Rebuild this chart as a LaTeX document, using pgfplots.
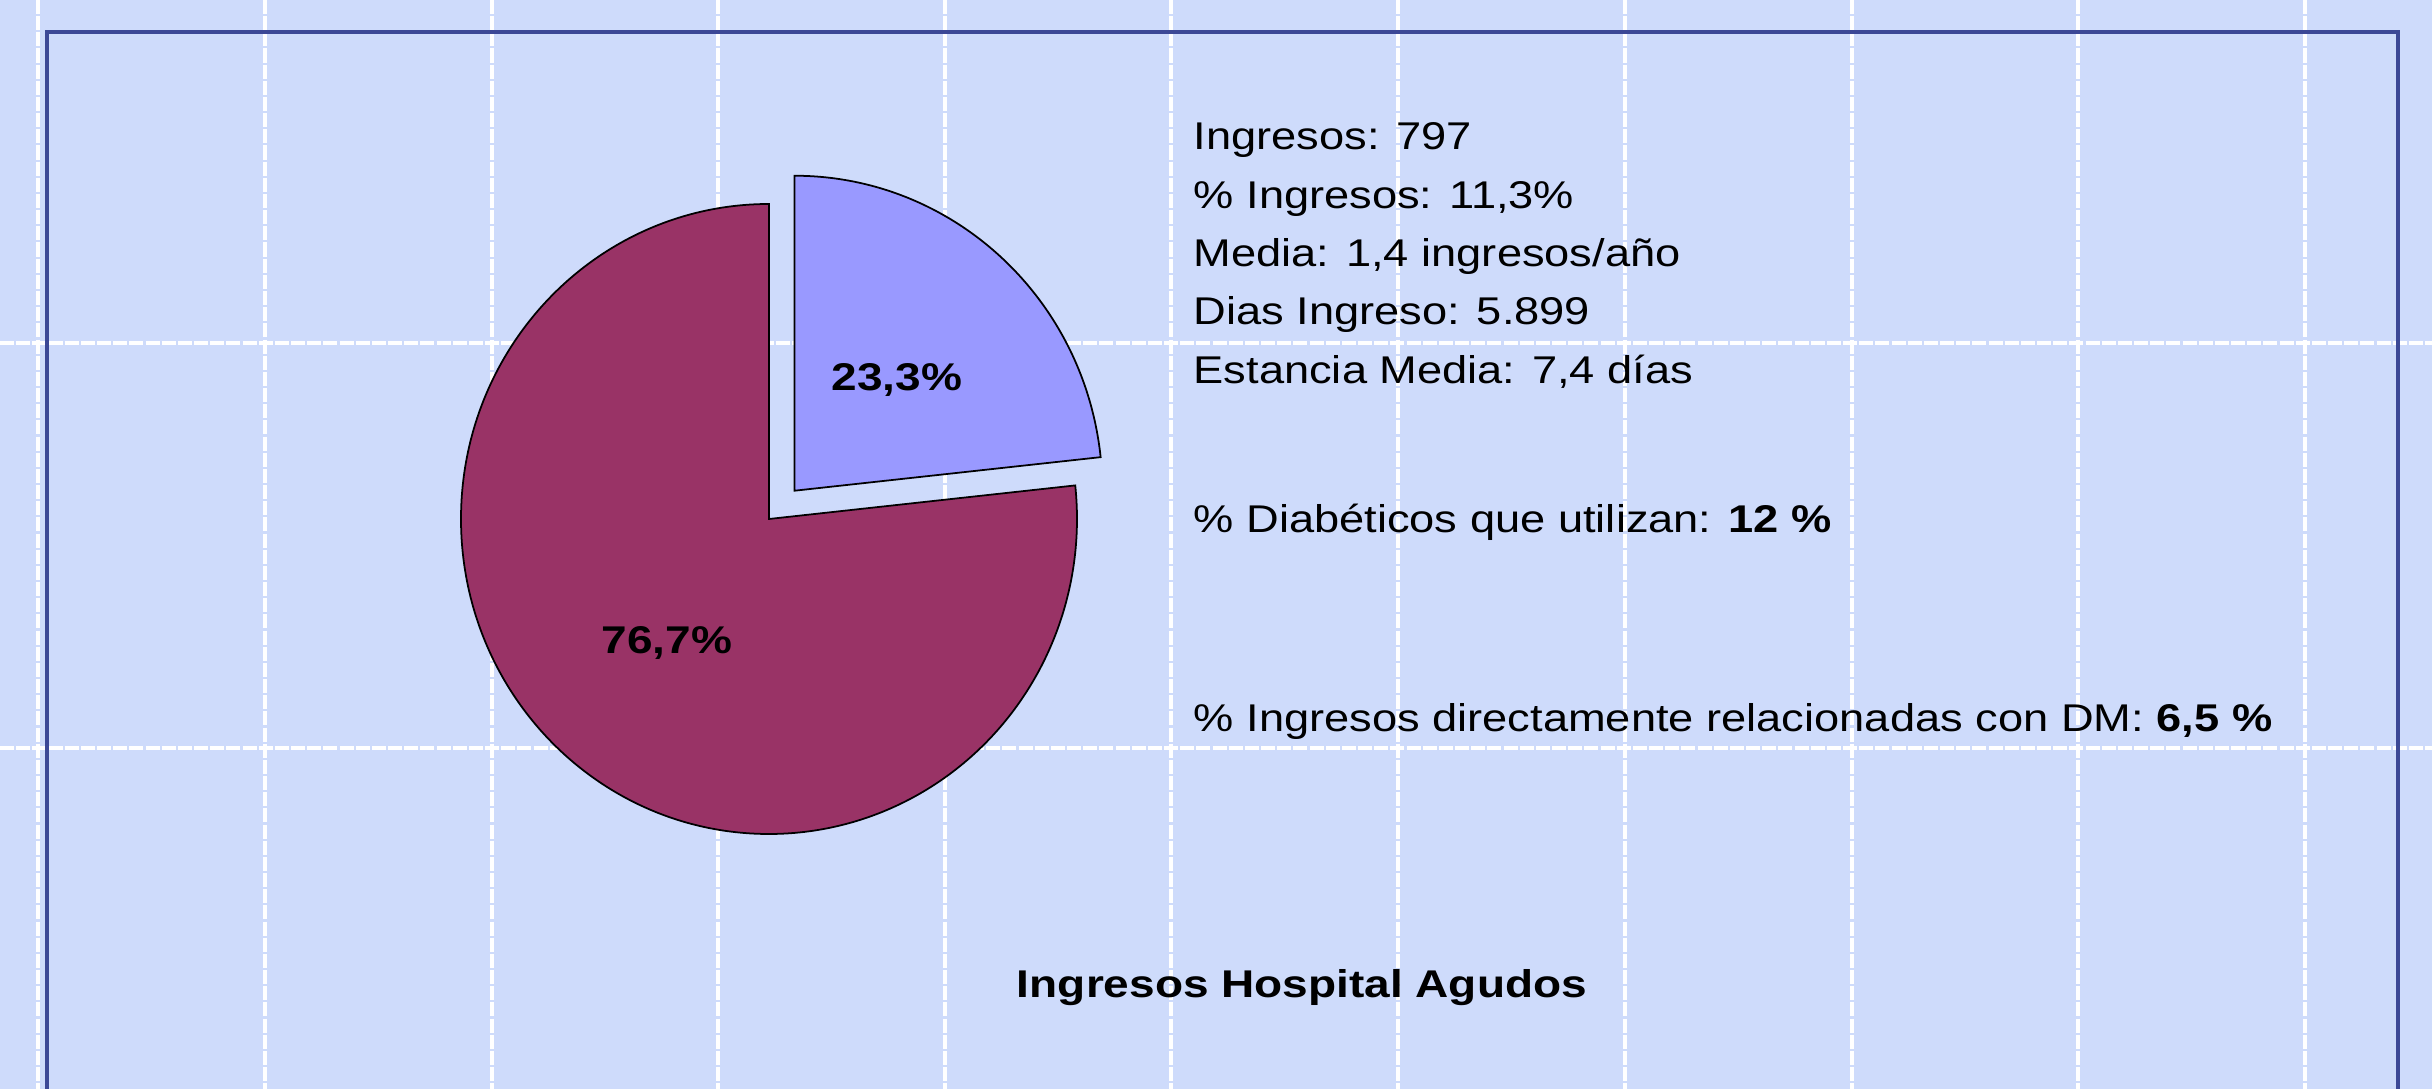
\documentclass[border=0pt]{standalone}
\usepackage{fontspec}
\setmainfont{Liberation Sans}
\usepackage{graphicx}
\usepackage{pgfplots}
\usepackage{pgfplotstable}
\pgfplotsset{compat=1.18}
\definecolor{bg}{RGB}{206,219,251}
\definecolor{framec}{RGB}{60,72,150}
\definecolor{sliceA}{RGB}{153,153,255}
\definecolor{sliceB}{RGB}{153,51,102}

\pgfplotstableread{
label value
DM 23.3
Otros 76.7
}\piedata

\newcommand\sx[1]{\scalebox{1.17}[1]{#1}}
\newcommand\sbx[1]{\scalebox{1.19}[1]{#1}}

\begin{document}
\begin{tikzpicture}
\pgfplotstablegetelem{0}{value}\of\piedata \let\va\pgfplotsretval
\pgfplotstablegetelem{1}{value}\of\piedata \let\vb\pgfplotsretval
\pgfmathsetmacro\aEnd{90-3.6*\va}
\pgfmathsetmacro\aMid{90-1.8*\va}
\pgfmathsetmacro\aEndB{90+3.6*\vb}
\begin{axis}[at={(0,0)},anchor=south west,scale only axis,
  width=24.32cm,height=10.89cm,
  xmin=0,xmax=2432,ymin=0,ymax=1089,y dir=reverse,hide axis,clip=true]
\fill[bg] (axis cs:0,0) rectangle (axis cs:2432,1089);
\pgfplotsinvokeforeach{38,265,492,718,945,1171,1398,1625,1852,2078,2305}{
  \draw[white,line width=0.9pt,dash pattern=on 4pt off 0.6pt] (axis cs:#1,0) -- (axis cs:#1,1089);
}
\pgfplotsinvokeforeach{343,748}{
  \draw[white,line width=1pt,dash pattern=on 4pt off 0.6pt] (axis cs:0,#1) -- (axis cs:2432,#1);
}
\draw[framec,line width=0.9pt] (axis cs:47,1100) -- (axis cs:47,32) -- (axis cs:2398,32) -- (axis cs:2398,1100);
% main slice
\filldraw[fill=sliceB,draw=black,line width=0.5pt] (axis cs:769,519) -- ++(0,3.15cm) arc[start angle=90,end angle=\aEndB,x radius=3.08cm,y radius=3.15cm] -- cycle;
% exploded slice
\path (axis cs:769,519) ++(\aMid:0.38cm) coordinate (cA);
\filldraw[fill=sliceA,draw=black,line width=0.5pt] (cA) -- ++(0,3.15cm) arc[start angle=90,end angle=\aEnd,x radius=3.08cm,y radius=3.15cm] -- cycle;
% labels
\tikzset{every node/.append style={inner sep=0pt}}
\node[anchor=base,font=\fontsize{11}{13}\selectfont\bfseries] at (axis cs:897,391) {\sbx{23,3\%}};
\node[anchor=base,font=\fontsize{11}{13}\selectfont\bfseries] at (axis cs:667,654) {\sbx{76,7\%}};
\node[anchor=base west,font=\fontsize{11}{13}\selectfont] at (axis cs:1193,150) {\sx{Ingresos: 797}};
\node[anchor=base west,font=\fontsize{11}{13}\selectfont] at (axis cs:1193,209) {\sx{\% Ingresos: 11,3\%}};
\node[anchor=base west,font=\fontsize{11}{13}\selectfont] at (axis cs:1193,267) {\sx{Media: 1,4 ingresos/año}};
\node[anchor=base west,font=\fontsize{11}{13}\selectfont] at (axis cs:1193,325) {\sx{Dias Ingreso: 5.899}};
\node[anchor=base west,font=\fontsize{11}{13}\selectfont] at (axis cs:1193,384) {\sx{Estancia Media: 7,4 días}};
\node[anchor=base west,font=\fontsize{11}{13}\selectfont] at (axis cs:1193,533) {\sx{\% Diabéticos que utilizan: \textbf{12 \%}}};
\node[anchor=base west,font=\fontsize{11}{13}\selectfont] at (axis cs:1193,732) {\sx{\% Ingresos directamente relacionadas con DM: \textbf{6,5 \%}}};
\node[anchor=base,font=\fontsize{11}{13}\selectfont\bfseries] at (axis cs:1302,998) {\sbx{Ingresos Hospital Agudos}};
\end{axis}
\end{tikzpicture}
\end{document}
